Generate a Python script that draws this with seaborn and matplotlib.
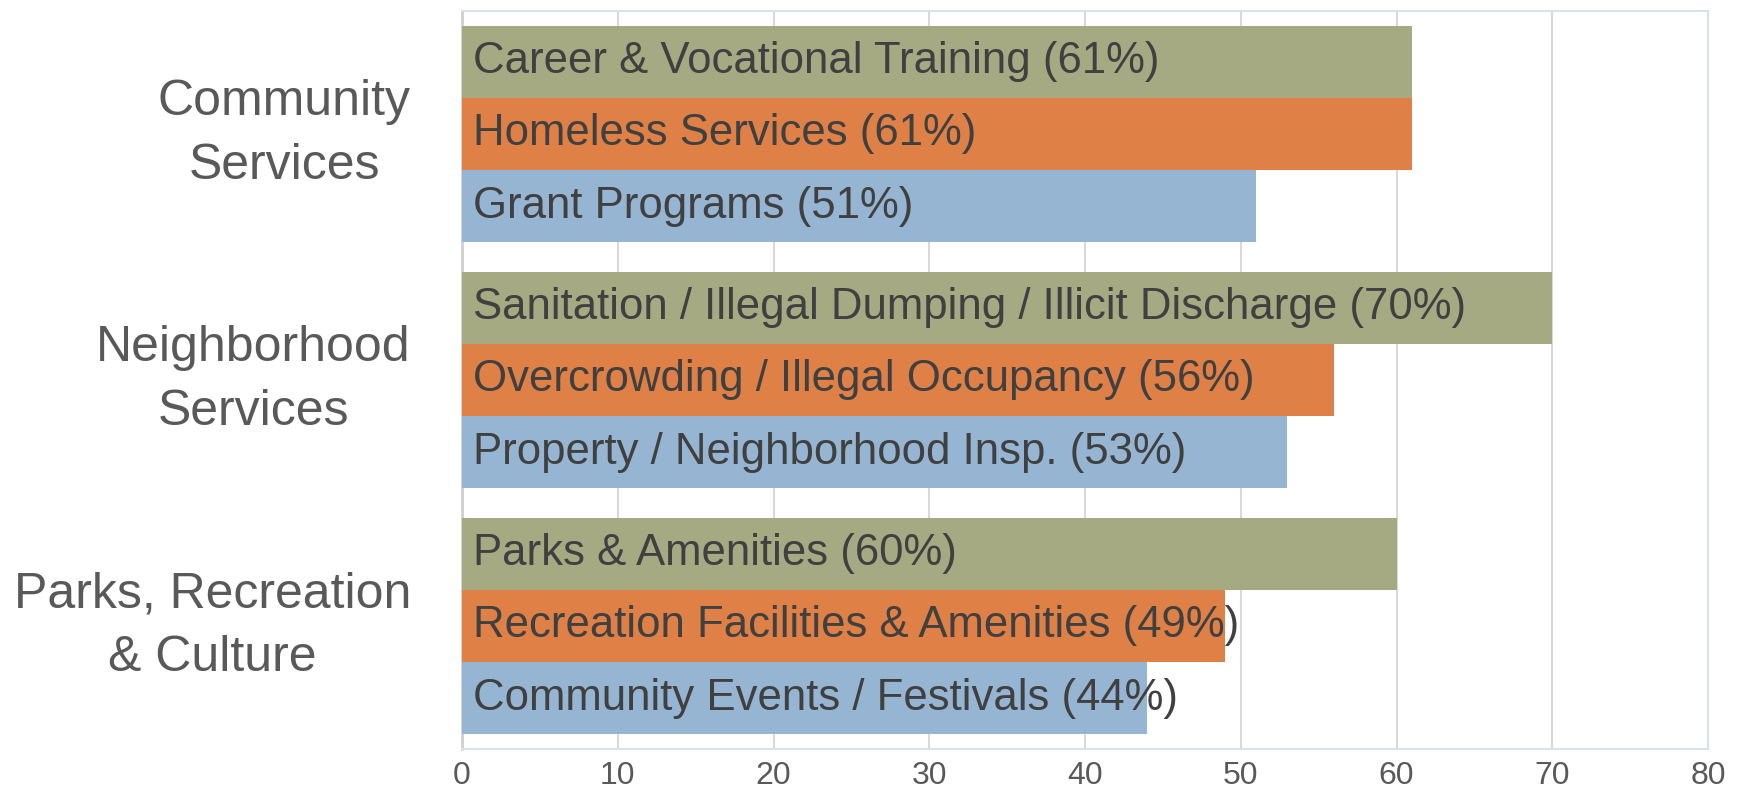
import matplotlib
matplotlib.use("Agg")
import matplotlib.pyplot as plt
import matplotlib.transforms as mtransforms
import seaborn as sns
import pandas as pd

categories = ["Community\nServices", "Neighborhood\nServices", "Parks, Recreation\n& Culture"]
items = [
    ["Career & Vocational Training", "Homeless Services", "Grant Programs"],
    ["Sanitation / Illegal Dumping / Illicit Discharge", "Overcrowding / Illegal Occupancy", "Property / Neighborhood Insp."],
    ["Parks & Amenities", "Recreation Facilities & Amenities", "Community Events / Festivals"],
]
values = [
    [61, 61, 51],
    [70, 56, 53],
    [60, 49, 44],
]
ranks = ["First", "Second", "Third"]
colors = ["#A5AA82", "#DF8046", "#95B5D3"]
x_ticks = [0, 10, 20, 30, 40, 50, 60, 70, 80]

rows = []
for c, names, vals in zip(categories, items, values):
    for r, n, v in zip(ranks, names, vals):
        rows.append({"category": c, "rank": r, "item": n, "value": v})
df = pd.DataFrame(rows)

sns.set_theme(style="white")
plt.rcParams["font.family"] = ["Liberation Sans", "DejaVu Sans"]

fig, ax = plt.subplots(figsize=(17.41, 7.91), dpi=100)
fig.subplots_adjust(left=462 / 1741, right=1708 / 1741, top=1 - 11 / 791, bottom=1 - 749 / 791)

sns.barplot(data=df, y="category", x="value", hue="rank", hue_order=ranks,
            order=categories, palette=colors, saturation=1, orient="h", width=0.88, gap=0,
            dodge=True, legend=False, linewidth=0, ax=ax, zorder=3)

# labels inside bars
label_lookup = {}
for c, names, vals in zip(categories, items, values):
    for r, n, v in zip(ranks, names, vals):
        label_lookup[(c, r)] = f"{n} ({v}%)"

for r, cont in zip(ranks, ax.containers):
    for c, patch in zip(categories, cont.patches):
        y = patch.get_y() + patch.get_height() / 2
        ax.annotate(label_lookup[(c, r)], xy=(0, y), xytext=(8, 0), textcoords="offset points",
                    va="center", ha="left", fontsize=31.5, color="#404040", zorder=5)

ax.set_xlim(0, 80)
ax.set_xticks(x_ticks)
ax.set_xticklabels([str(t) for t in x_ticks], fontsize=23, color="#595959")
ax.tick_params(axis="x", length=0, pad=9)

# category labels on the left, placed at the categorical tick positions
yticks = ax.get_yticks()
ax.set_yticks(yticks)
ax.set_yticklabels([""] * len(yticks))
ax.tick_params(axis="y", length=0)
shift = mtransforms.ScaledTranslation(-51 / 100, 0, fig.dpi_scale_trans)
for yv, c in zip(yticks, categories):
    ax.text(0, yv, c, transform=ax.get_yaxis_transform() + shift, ha="right", va="center",
            multialignment="center", fontsize=36, color="#595959", linespacing=1.5)

ax.set_xlabel("")
ax.set_ylabel("")
ax.set_ylim(2.5, -0.5)

ax.xaxis.grid(True, color="#D9D9D9", linewidth=1.5, zorder=0)
ax.set_axisbelow(True)
for side in ["top", "right", "bottom"]:
    ax.spines[side].set_visible(True)
    ax.spines[side].set_color("#D6E2EE")
    ax.spines[side].set_linewidth(1.5)
ax.spines["left"].set_color("#D0D0D0")
ax.spines["left"].set_linewidth(2)

fig.savefig("out.png", dpi=100)
